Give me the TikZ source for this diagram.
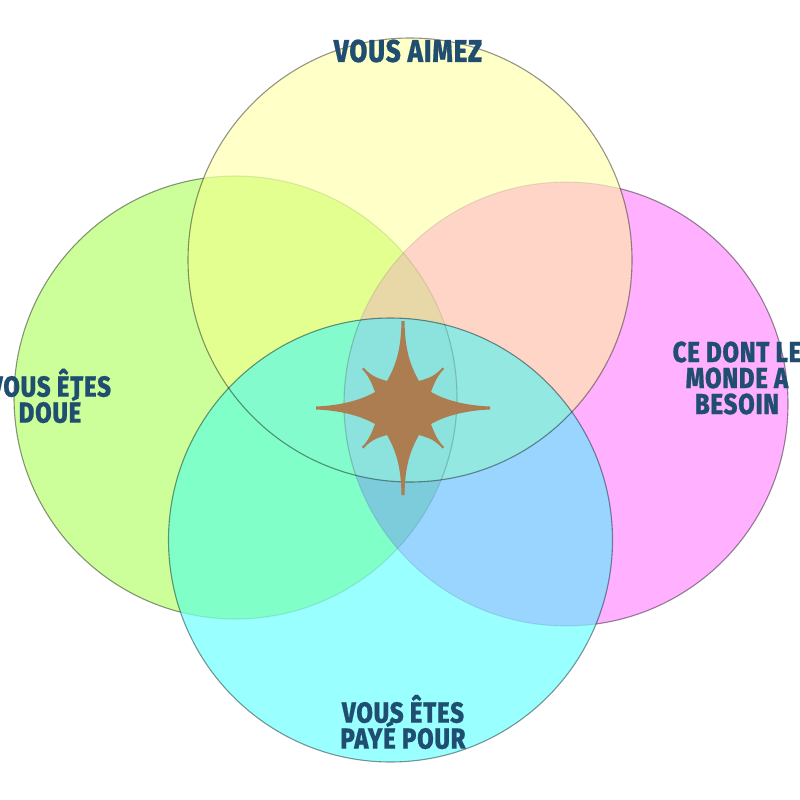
\documentclass[tikz,border=0pt]{standalone}
\usepackage{fontspec}
\newfontfamily\labfont[FakeStretch=0.82,LetterSpace=3,FakeBold=0.6]{Fira Sans}[UprightFont=* ExtraBold]
\setlength{\lineskiplimit}{-30pt}
\definecolor{ink}{HTML}{1F4E70}
\definecolor{cY}{HTML}{FFFFC8}
\definecolor{cG}{HTML}{CCFF99}
\definecolor{cM}{HTML}{FFB0FF}
\definecolor{cC}{HTML}{99FFFF}
\definecolor{cYG}{HTML}{E2FF90}
\definecolor{cYM}{HTML}{FFD5C8}
\definecolor{cYGM}{HTML}{E8D8A8}
\definecolor{cCG}{HTML}{80FFC8}
\definecolor{cCM}{HTML}{99D5FF}
\definecolor{cCGM}{HTML}{7CCCDC}
\definecolor{cCYG}{HTML}{84FBCC}
\definecolor{cCYM}{HTML}{94E8E2}
\definecolor{cCYGM}{HTML}{8CE2DC}
\definecolor{cStar}{HTML}{AD7D52}
\newcommand{\pY}{(410,260) circle[radius=222]}
\newcommand{\pG}{(235.5,397.5) circle[radius=221.5]}
\newcommand{\pM}{(566,404) circle[radius=222]}
\newcommand{\pC}{(390.5,540) circle[radius=222]}
\tikzset{
  rim/.style={draw=black,draw opacity=0.42,line width=1.1pt},
  faint/.style={draw=black,draw opacity=0.09,line width=1.1pt},
  lab/.style={text=ink,align=center,font=\labfont\fontsize{29}{26}\selectfont,inner sep=0pt}
}
\begin{document}
\begin{tikzpicture}[x=1pt,y=-1pt]
\useasboundingbox (0,0) rectangle (800,800);
\clip (0,0) rectangle (800,800);
\fill[white] (0,0) rectangle (800,800);
% outer parts of green and magenta, with their outlines
\fill[cG] \pG;
\fill[cM] \pM;
\path[rim] \pG;
\path[rim] \pM;
% yellow circle and its overlaps
\fill[cY] \pY;
\begin{scope}\clip \pY; \fill[cYG] \pG; \fill[cYM] \pM;
  \begin{scope}\clip \pG; \fill[cYGM] \pM;\end{scope}
\end{scope}
% cyan circle and its overlaps
\fill[cC] \pC;
\begin{scope}\clip \pC; \fill[cCG] \pG; \fill[cCM] \pM;
  \begin{scope}\clip \pG; \fill[cCGM] \pM;\end{scope}
  \begin{scope}\clip \pY; \fill[cCYG] \pG; \fill[cCYM] \pM;
    \begin{scope}\clip \pG; \fill[cCYGM] \pM;\end{scope}
  \end{scope}
\end{scope}
% faint inner arcs
\begin{scope}\clip \pY; \path[faint] \pG; \path[faint] \pM;\end{scope}
\begin{scope}\clip \pC; \path[faint] \pG; \path[faint] \pM;\end{scope}
\path[rim] \pY;
\path[rim] \pC;
% star
\fill[cStar,shift={(403,408)}]
  (1.5,-87) .. controls (2,-58) and (7,-43) .. (16,-27)
  .. controls (27,-30) and (33,-33) .. (39.5,-40.5) -- (41,-39)
  .. controls (34,-32) and (31,-24) .. (28,-16)
  .. controls (42,-8) and (62,-2.5) .. (87,-1.5) -- (87,1.5)
  .. controls (62,2.5) and (42,8) .. (28,16)
  .. controls (31,24) and (34,32) .. (41,39) -- (39.5,40.5)
  .. controls (33,33) and (27,30) .. (16,27)
  .. controls (7,43) and (2,58) .. (1.5,87) -- (-1.5,87)
  .. controls (-2,58) and (-7,43) .. (-16,27)
  .. controls (-27,30) and (-33,33) .. (-39.5,40.5) -- (-41,39)
  .. controls (-34,32) and (-31,24) .. (-28,16)
  .. controls (-42,8) and (-62,2.5) .. (-87,1.5) -- (-87,-1.5)
  .. controls (-62,-2.5) and (-42,-8) .. (-28,-16)
  .. controls (-31,-24) and (-34,-32) .. (-41,-39) -- (-39.5,-40.5)
  .. controls (-33,-33) and (-27,-30) .. (-16,-27)
  .. controls (-7,-43) and (-2,-58) .. (-1.5,-87) -- cycle;
% labels
\node[lab,font=\labfont\fontsize{31.5}{26}\selectfont] (aimez) at (408,51) {VOUS AIMEZ};
\node[lab] (doue) at (50,396) {VOUS ÊTES\\DOUÉ};
\node[lab] (besoin) at (737,378) {CE DONT LE\\MONDE A\\BESOIN};
\node[lab] (paye) at (403,722) {VOUS ÊTES\\PAYÉ POUR};
\end{tikzpicture}
\end{document}
